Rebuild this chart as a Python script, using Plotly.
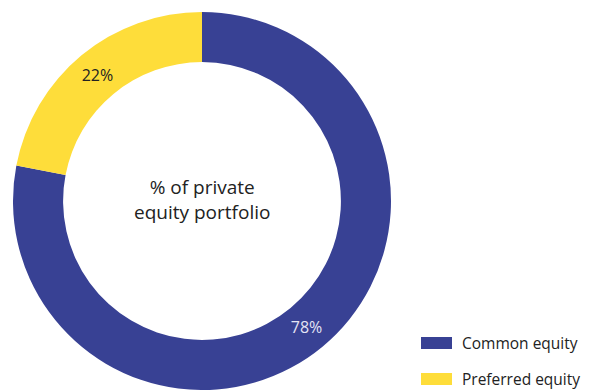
import plotly.graph_objects as go

labels = ["Common equity", "Preferred equity"]
values = [78, 22]
colors = ["#384194", "#FEDD3A"]
text_colors = ["#E4E4F4", "#222222"]
center_text = "% of private<br>equity portfolio"

W, H = 591, 390
FONT = "Open Sans"

fig = go.Figure()
fig.add_trace(go.Pie(
    labels=labels, values=values, hole=0.735, sort=False,
    direction="clockwise", rotation=0,
    marker=dict(colors=colors, line=dict(width=0)),
    texttemplate="%{percent:.0%}", textposition="inside",
    insidetextorientation="horizontal",
    textfont=dict(family=FONT, size=16, color=text_colors),
    domain=dict(x=[13 / W, 391 / W], y=[0, 378 / H]),
    showlegend=False, hoverinfo="label+percent",
))

# center label
fig.add_annotation(x=202 / W, y=1 - 200 / H, xref="paper", yref="paper",
                   text=center_text, showarrow=False,
                   font=dict(family=FONT, size=19, color="#222222"),
                   xanchor="center", yanchor="middle")

# custom legend
leg_y = [343, 379]
for lab, col, yy in zip(labels, colors, leg_y):
    fig.add_shape(type="rect", xref="paper", yref="paper",
                  x0=421 / W, x1=452 / W, y0=1 - (yy + 6) / H, y1=1 - (yy - 6) / H,
                  fillcolor=col, line=dict(width=0))
    fig.add_annotation(x=460 / W, y=1 - yy / H, xref="paper", yref="paper",
                       text=lab, showarrow=False, xanchor="left", yanchor="middle",
                       font=dict(family=FONT, size=15.5, color="#222222"))

fig.update_layout(width=W, height=H, margin=dict(l=0, r=0, t=0, b=0),
                  paper_bgcolor="white", plot_bgcolor="white")
fig.write_html("out.html")
